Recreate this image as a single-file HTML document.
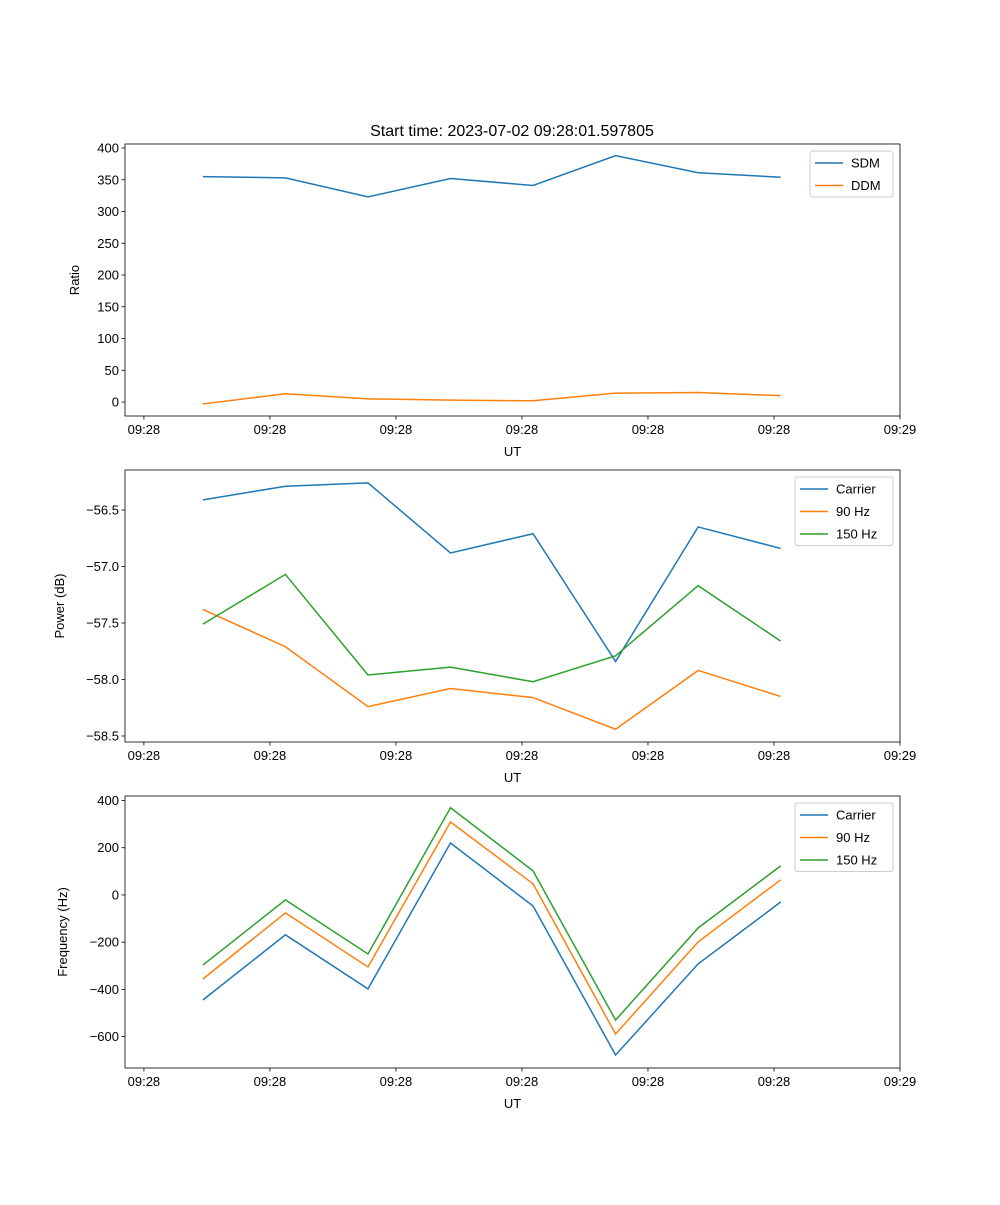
<!DOCTYPE html>
<html><head><meta charset="utf-8"><style>
body{margin:0;background:#fff}
svg{font-family:"Liberation Sans","DejaVu Sans",sans-serif}
</style></head><body>
<svg id="c" width="1000" height="1200" xmlns="http://www.w3.org/2000/svg"></svg>
<script>
const times=[4.68,11.23,17.78,24.33,30.88,37.43,43.98,50.53];
const xTicks=[0,10,20,30,40,50,60];
const xTickLabels=["09:28","09:28","09:28","09:28","09:28","09:28","09:29"];
const sdm=[355,353,323,352,341,388,361,354];
const ddm=[-3,13,5,3,2,14,15,10];
const pCarrier=[-56.41,-56.29,-56.26,-56.88,-56.71,-57.84,-56.65,-56.84];
const p90=[-57.38,-57.71,-58.24,-58.08,-58.16,-58.44,-57.92,-58.15];
const p150=[-57.51,-57.07,-57.96,-57.89,-58.02,-57.79,-57.17,-57.66];
const fCarrier=[-445,-169,-398,220,-47,-678,-292,-30];
const f90=[-356,-76,-305,309,47,-589,-199,64];
const f150=[-297,-21,-250,369,102,-530,-140,123];
const y1Ticks=[0,50,100,150,200,250,300,350,400];
const y2Ticks=[-58.5,-58.0,-57.5,-57.0,-56.5];
const y2Labels=["−58.5","−58.0","−57.5","−57.0","−56.5"];
const y3Ticks=[-600,-400,-200,0,200,400];
const y3Labels=["−600","−400","−200","0","200","400"];

const svg=document.getElementById('c');
const NS="http://www.w3.org/2000/svg";
function mk(t,a,p){const e=document.createElementNS(NS,t);for(const k in a)e.setAttribute(k,a[k]);(p||svg).appendChild(e);return e;}
const L=125,R=900,xmin=-1.5,xmax=60;
const sx=v=>L+(v-xmin)/(xmax-xmin)*(R-L);
const C1="#1f77b4",C2="#ff7f0e",C3="#2ca02c";

function panel(name,top,bot,ymin,ymax,yt,ytl,ylabel,series,legend){
  const g=mk('g',{});
  
  
  const sy=v=>bot-(v-ymin)/(ymax-ymin)*(bot-top);
  series.forEach(s=>{
    const pl=mk('polyline',{points:s.d.map((v,i)=>sx(times[i])+','+sy(v)).join(' '),fill:'none',stroke:s.c,'stroke-width':1.5},g);
    
    
  });
  const fr=mk('rect',{x:L,y:top,width:R-L,height:bot-top,fill:'none',stroke:'#000','stroke-width':0.8},g);
  
  
  xTicks.forEach((t,i)=>{
    const x=sx(t);
    mk('line',{x1:x,x2:x,y1:bot,y2:bot+3.5,stroke:'#000','stroke-width':0.8},g);
    const tx=mk('text',{x:x,y:bot+18,'text-anchor':'middle','font-size':13},g);
    tx.textContent=xTickLabels[i];
    
    
  });
  yt.forEach((t,i)=>{
    const y=sy(t);
    mk('line',{x1:L-3.5,x2:L,y1:y,y2:y,stroke:'#000','stroke-width':0.8},g);
    const tx=mk('text',{x:L-6,y:y+4.5,'text-anchor':'end','font-size':13},g);
    tx.textContent=ytl[i];
    
    
  });
  const xl=mk('text',{x:(L+R)/2,y:bot+40,'text-anchor':'middle','font-size':13},g);
  xl.textContent='UT';
  
  
  const yc=(top+bot)/2;
  const yl=mk('text',{x:ylabel[1],y:yc,'text-anchor':'middle','font-size':13,transform:`rotate(-90 ${ylabel[1]} ${yc})`},g);
  yl.textContent=ylabel[0];
  
  
  const lg=mk('g',{},g);
  
  
  mk('rect',{x:legend[0],y:top+7,width:R-7-legend[0],height:series.length*22.5+1,fill:'#fff',stroke:'#ccc',rx:3},lg);
  series.forEach((s,i)=>{
    const yy=top+19+i*22.5;
    mk('line',{x1:legend[0]+5,x2:legend[0]+33,y1:yy,y2:yy,stroke:s.c,'stroke-width':1.5},lg);
    const t=mk('text',{x:legend[0]+41,y:yy+4.5,'font-size':13},lg);
    t.textContent=s.n;
    
    
  });
}
const ti=mk('text',{x:512,y:136,'text-anchor':'middle','font-size':16});
ti.textContent='Start time: 2023-07-02 09:28:01.597805';


panel('ratio-panel',144,416,-22,406.3,y1Ticks,y1Ticks.map(String),['Ratio',79],
  [{n:'SDM',d:sdm,c:C1},{n:'DDM',d:ddm,c:C2}],[810]);
panel('power-panel',470,742,-58.553,-56.146,y2Ticks,y2Labels,['Power (dB)',64],
  [{n:'Carrier',d:pCarrier,c:C1},{n:'90 Hz',d:p90,c:C2},{n:'150 Hz',d:p150,c:C3}],[795]);
panel('frequency-panel',796,1068,-733,419,y3Ticks,y3Labels,['Frequency (Hz)',67],
  [{n:'Carrier',d:fCarrier,c:C1},{n:'90 Hz',d:f90,c:C2},{n:'150 Hz',d:f150,c:C3}],[795]);
</script>
</body></html>
